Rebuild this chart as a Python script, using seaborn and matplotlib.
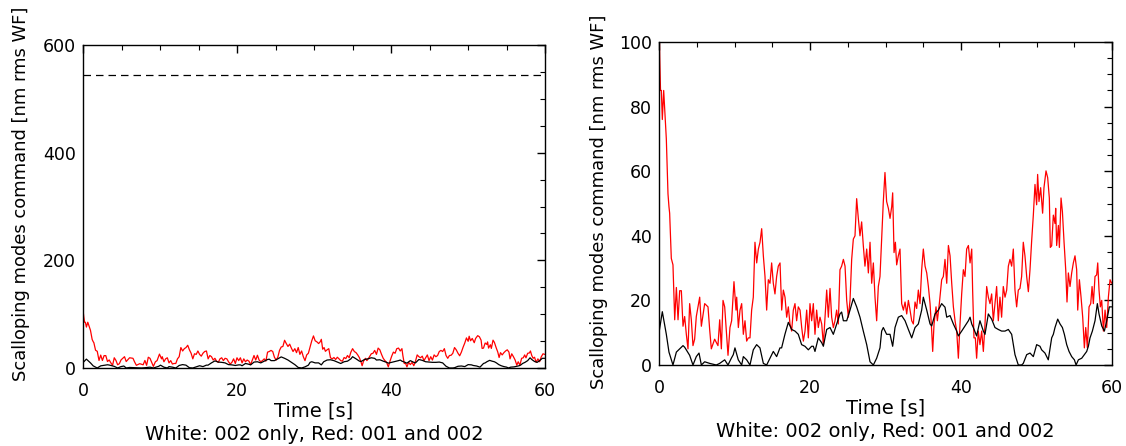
import matplotlib
matplotlib.use("Agg")
import matplotlib.pyplot as plt
from matplotlib.ticker import MultipleLocator
import numpy as np
import pandas as pd
import seaborn as sns

# ---------------- data ----------------
red_t = [0.0, 0.1, 0.2, 0.31, 0.44, 0.62, 0.97, 1.19, 1.32, 1.41, 1.63, 1.85, 2.08, 2.30,
         2.52, 2.74, 2.96, 3.18, 3.40, 3.62, 3.84, 4.06, 4.28, 4.50, 4.72, 4.94, 5.39, 5.61,
         6.05, 6.49, 6.71, 6.93, 7.37, 7.81, 8.04, 8.26, 8.48, 8.70, 9.14, 9.40, 9.62, 9.93,
         10.20, 10.29, 10.51, 10.73, 10.95, 11.17, 11.39, 11.61, 11.83, 12.05, 12.27, 12.49,
         12.71, 12.94, 13.16, 13.38, 13.60, 13.82, 14.04, 14.26, 14.48, 14.70, 14.92, 15.14,
         15.36, 15.58, 15.80, 16.03, 16.25, 16.47, 16.69, 16.91, 17.13, 17.35, 17.57, 17.79,
         18.01, 18.23, 18.45, 18.68, 18.90, 19.12, 19.34, 19.56, 19.78, 20.00, 20.22, 20.44,
         20.66, 20.88, 21.10, 21.32, 21.55, 21.77, 21.99, 22.21, 22.43, 22.65, 22.87, 23.09,
         23.31, 23.53, 23.75, 23.97, 24.19, 24.42, 24.64, 24.86, 25.08, 25.30, 25.52, 25.74,
         25.96, 26.18, 26.40, 26.62, 26.84, 27.06, 27.28, 27.51, 27.73, 27.95, 28.17, 28.39,
         28.61, 28.83, 29.05, 29.27, 29.49, 29.71, 29.93, 30.15, 30.38, 30.60, 30.82, 30.95,
         31.13, 31.31, 31.48, 31.70, 31.92, 32.14, 32.37, 32.59, 32.81, 33.03, 33.25, 33.47,
         33.69, 33.91, 34.13, 34.35, 34.57, 34.79, 35.01, 35.24, 35.46, 35.68, 35.90, 36.12,
         36.25, 36.43, 36.69, 36.87, 37.13, 37.44, 37.66, 37.88, 38.11, 38.33, 38.55, 38.77,
         38.99, 39.21, 39.43, 39.65, 39.87, 40.09, 40.31, 40.53, 40.75, 40.98, 41.20, 41.42,
         41.54, 41.72, 41.90, 42.07, 42.29, 42.51, 42.74, 42.96, 43.18, 43.40, 43.62, 43.84,
         44.06, 44.28, 44.50, 44.72, 44.94, 45.16, 45.38, 45.60, 45.83, 46.05, 46.27, 46.49,
         46.71, 46.93, 47.15, 47.37, 47.59, 47.81, 48.03, 48.25, 48.47, 48.70, 48.92, 49.14,
         49.36, 49.58, 49.80, 50.02, 50.15, 50.33, 50.55, 50.81, 50.99, 51.26, 51.48, 51.70,
         51.83, 52.01, 52.23, 52.45, 52.54, 52.67, 52.90, 53.03, 53.25, 53.43, 53.65, 53.87,
         54.04, 54.22, 54.44, 54.66, 54.88, 55.10, 55.32, 55.46, 55.68, 55.90, 56.12, 56.34,
         56.52, 56.74, 56.96, 57.18, 57.36, 57.53, 57.75, 57.97, 58.11, 58.28, 58.46, 58.64,
         58.86, 59.08, 59.30, 59.52, 59.74, 59.96]
red_v = [108, 95, 85, 85, 76, 85, 70, 53, 49, 47, 33, 31, 14, 24,
         14, 23, 23, 12, 15, 9.5, 5, 19, 14, 6, 8, 15, 21, 12,
         19, 18, 11, 5, 8, 6, 14, 5, 20, 18, 3, 11.6, 13.7, 25.8,
         17, 21, 11.6, 17, 19, 9.5, 13.7, 7.4, 8.4, 8.4, 17, 21,
         38, 31.6, 35.9, 38, 42.2, 33.8, 27.4, 17, 26.4, 25.3, 31.6, 25.3,
         22, 27.4, 30.6, 31.6, 17, 23.2, 21, 14.8, 18, 12.7, 10.5, 17,
         19, 13.7, 18, 17, 11.6, 7.4, 10.5, 17, 8.4, 19, 13.7, 19,
         9.5, 17, 11.6, 14.8, 12.7, 6.3, 14.8, 23.2, 14.8, 23.7, 14.8, 11.6,
         13.7, 17, 12.7, 29.5, 30.6, 32.7, 30.6, 20, 14.8, 20, 32.7, 39,
         40, 51.5, 45.4, 40, 44.3, 37, 30.6, 35.9, 28.5, 38, 25.3, 31.6,
         21, 13.7, 24.3, 27.4, 39, 50.6, 59.6, 50.6, 48.5, 45.4, 49, 53.3,
         34.8, 38, 31, 33.8, 35.9, 19, 17, 19.5, 15.8, 20, 17, 13.7,
         12.7, 19.5, 17.5, 23.2, 19, 29.5, 35.9, 30.6, 28.5, 24.3, 19, 10.5,
         4.2, 12.7, 18, 13.7, 19, 26.4, 27.4, 32.7, 25.3, 37, 33.8, 25.3,
         18, 13.7, 10.5, 2.1, 12.7, 22, 29.5, 27.4, 35.9, 37, 31.6, 35.9,
         23.2, 8.4, 8.4, 2.1, 10.5, 6.3, 10.5, 4.2, 12.7, 24.3, 21, 19,
         22, 13.7, 19, 24.3, 13.7, 21, 14.8, 24.3, 21, 23.2, 30.6, 32.7,
         30.6, 35.9, 23.2, 18, 23.2, 23.7, 27.4, 38, 33.8, 27.4, 22.7, 29.5,
         38.5, 46.4, 55.9, 49.6, 59, 50.6, 54.9, 47, 54.9, 60.1, 58, 51.7,
         36.4, 36.9, 46.4, 43.8, 48.5, 37, 43.2, 36.4, 51.7, 47.5, 38, 29.5,
         19.5, 28.5, 24.3, 28.5, 31.6, 33.8, 29.5, 17, 26.4, 21, 14.8, 5.3,
         11.6, 5.3, 18, 19, 24.3, 19, 27.4, 27.9, 31.6, 23.2, 18, 20,
         10.5, 17, 11.6, 21, 26.4, 25.3]

black_t = [0.0, 0.44, 0.97, 1.32, 1.85, 2.30, 2.74, 3.18, 3.40, 4.06, 4.50, 4.94, 5.30, 5.61,
           6.05, 6.71, 7.59, 8.04, 8.70, 9.14, 9.58, 9.84, 10.06, 10.50, 10.95, 11.17, 11.61,
           12.05, 12.49, 12.93, 13.37, 13.82, 14.26, 14.70, 15.14, 15.58, 16.02, 16.24, 16.68,
           17.13, 17.57, 18.01, 18.45, 18.89, 19.33, 19.78, 20.22, 20.44, 20.66, 21.10, 21.55,
           21.77, 22.21, 22.65, 23.09, 23.53, 23.97, 24.19, 24.42, 24.86, 25.30, 25.74, 26.18,
           26.62, 27.06, 27.51, 27.95, 28.39, 28.83, 29.27, 29.49, 29.71, 30.15, 30.60, 30.95,
           31.26, 31.70, 32.14, 32.59, 33.03, 33.47, 33.91, 34.35, 34.79, 35.01, 35.46, 35.90,
           36.12, 36.56, 37.00, 37.44, 37.88, 38.11, 38.55, 38.99, 39.43, 39.65, 40.09, 40.53,
           40.98, 41.20, 41.42, 41.63, 42.07, 42.51, 42.96, 43.18, 43.62, 44.06, 44.50, 44.94,
           45.38, 45.83, 46.27, 46.71, 47.15, 47.59, 48.03, 48.25, 48.70, 49.14, 49.58, 50.02,
           50.46, 50.68, 51.12, 51.56, 52.01, 52.23, 52.45, 52.81, 53.12, 53.43, 53.69, 54.00,
           54.31, 54.66, 55.02, 55.24, 55.55, 55.99, 56.34, 56.65, 56.87, 57.09, 57.40, 57.75,
           58.06, 58.28, 58.64, 58.99, 59.30, 59.65, 59.96]
black_v = [10, 16.5, 9.5, 4, 0, 4, 5, 6, 5.5, 3, 0, 2.6, 3.7, 0,
           1, 0.5, 0, 0.5, 1.6, 0, 2.1, 3.2, 5.3, 1.6, 0, 2.6, 1.6,
           0, 4.7, 6.3, 5.3, 0.5, 0, 2.1, 4.2, 2.6, 5.3, 5.3, 9.5,
           13.2, 11, 10.5, 9.5, 6.3, 5.8, 4.7, 5.8, 5.8, 4.2, 8.4, 6.9,
           5.8, 11, 11.6, 9.5, 12.7, 15.8, 16.4, 13.7, 13.7, 17, 20.6, 18,
           14.8, 10.5, 6.3, 1, 0, 2.1, 5.3, 10.5, 11.6, 9.5, 9.5, 5.8,
           11.6, 14.8, 15.3, 13.7, 11, 8.4, 11.6, 12.7, 17, 21, 17, 12.7,
           12.1, 15.8, 17, 19, 17.9, 14.8, 15.3, 12.7, 10.5, 9, 10.5, 12.1,
           13.7, 14.8, 12.7, 11.6, 9, 13.7, 10.5, 9.5, 15.8, 14.2, 11.6, 11,
           10.5, 10.5, 11, 9.5, 3.2, 0, 0, 0.5, 3.2, 3.7, 2.6, 6.3,
           5.8, 4.7, 3.7, 1.6, 8.4, 9.5, 11.6, 14.2, 12.7, 11.6, 9.5, 6.3,
           4.2, 2.6, 1.6, 0, 1.6, 2.1, 3.2, 4.2, 5.8, 8.4, 10.5, 13.7,
           19, 15.8, 12.1, 10.5, 13.7, 18, 18]

threshold = 545  # dashed reference level (left panel)

x_label = "Time [s]\nWhite: 002 only, Red: 001 and 002"
y_label = "Scalloping modes command [nm rms WF]"

# ---------------- styling ----------------
sns.set_theme(style="white")
plt.rcParams.update({
    "font.family": ["DejaVu Sans"],
    "axes.edgecolor": "black",
    "axes.linewidth": 1.0,
    "xtick.direction": "in",
    "ytick.direction": "in",
    "xtick.top": True,
    "ytick.right": True,
    "xtick.color": "black",
    "ytick.color": "black",
    "axes.labelcolor": "black",
    "text.color": "black",
})

red_df = pd.DataFrame({"t": red_t, "v": red_v})
black_df = pd.DataFrame({"t": black_t, "v": black_v})

W, H = 1126, 446
fig = plt.figure(figsize=(W / 100, H / 100), dpi=100)
ax1 = fig.add_axes([83 / W, (H - 368) / H, (545 - 83) / W, (368 - 45) / H])
ax2 = fig.add_axes([659 / W, (H - 365) / H, (1112 - 659) / W, (365 - 42) / H])


def draw(ax, ymax, ymajor, yminor, show_threshold, ylabel_pad, ylabel_y):
    sns.lineplot(data=red_df, x="t", y="v", ax=ax, color="#ff0000", lw=0.9,
                 estimator=None, sort=False)
    sns.lineplot(data=black_df, x="t", y="v", ax=ax, color="black", lw=0.9,
                 estimator=None, sort=False)
    if show_threshold:
        ax.axhline(threshold, color="black", lw=0.9, ls=(0, (6, 4)))
    ax.set_xlim(0, 60)
    ax.set_ylim(0, ymax)
    ax.xaxis.set_major_locator(MultipleLocator(20))
    ax.xaxis.set_minor_locator(MultipleLocator(5))
    ax.yaxis.set_major_locator(MultipleLocator(ymajor))
    ax.yaxis.set_minor_locator(MultipleLocator(yminor))
    ax.tick_params(which="major", length=6, width=1, labelsize=12.5,
                   top=True, right=True, direction="in")
    ax.tick_params(which="minor", length=3.5, width=0.8, top=True, right=True,
                   direction="in")
    ax.tick_params(axis="x", which="major", pad=10)
    ax.tick_params(axis="y", which="major", pad=5)
    ax.set_xlabel(x_label, fontsize=14, linespacing=1.27, labelpad=1.5)
    ax.set_ylabel(y_label, fontsize=12.9, labelpad=ylabel_pad)
    ax.yaxis.label.set_y(ylabel_y)
    for s in ax.spines.values():
        s.set_visible(True)
        s.set_color("black")


draw(ax1, 600, 200, 50, True, 9, 0.54)
draw(ax2, 100, 20, 5, False, 8, 0.505)

fig.savefig("out.png", dpi=100, facecolor="white")
